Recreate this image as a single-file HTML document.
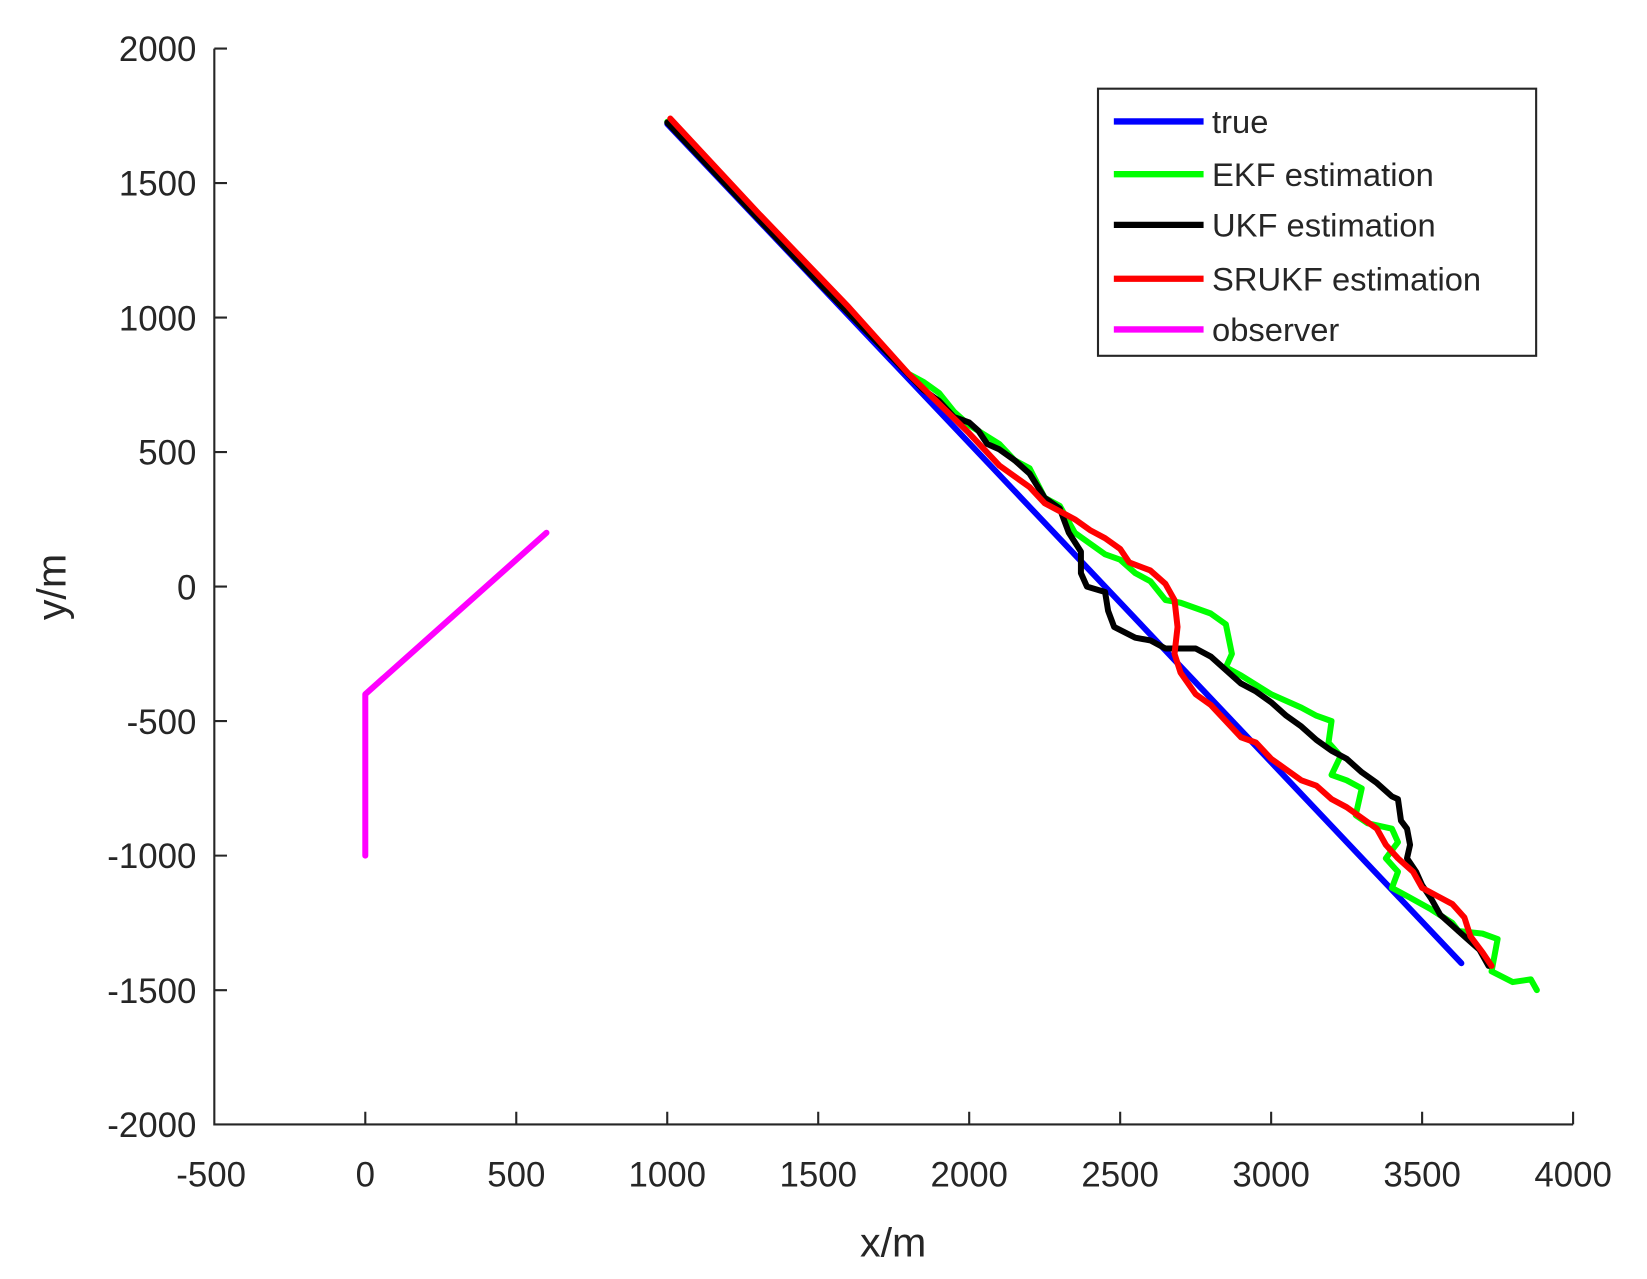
<!DOCTYPE html>
<html><head><meta charset="utf-8"><style>
html,body{margin:0;padding:0;background:#fff;}
svg{display:block;}
text{font-family:"Liberation Sans",Arial,sans-serif;fill:#262626;}
</style></head><body>
<svg width="1647" height="1279" viewBox="0 0 1560 1211.4" preserveAspectRatio="none" xmlns="http://www.w3.org/2000/svg">
<rect width="1560" height="1212" fill="#fff"/>
<g transform="translate(346,555.6) scale(0.286,-0.2548)" fill="none" stroke-linejoin="round" stroke-linecap="round">
<polyline vector-effect="non-scaling-stroke" stroke="#ff00ff" stroke-width="6" points="600,200 0,-400 0,-1000"/>
<polyline vector-effect="non-scaling-stroke" stroke="#0000ff" stroke-width="6" points="1000,1720 3630,-1400"/>
<polyline vector-effect="non-scaling-stroke" stroke="#00ff00" stroke-width="6" points="1000,1728 1500,1140 1800,790 1850,760 1900,720 1950,650 2000,600 2100,530 2150,470 2200,440 2250,330 2300,300 2350,200 2400,160 2450,120 2500,100 2550,50 2600,20 2650,-50 2700,-60 2750,-80 2800,-100 2850,-140 2870,-250 2850,-300 2900,-330 3000,-400 3100,-450 3150,-480 3200,-500 3190,-580 3230,-630 3200,-700 3250,-720 3300,-750 3280,-850 3320,-880 3400,-900 3420,-950 3380,-1010 3420,-1060 3400,-1120 3450,-1150 3530,-1200 3600,-1250 3620,-1280 3700,-1290 3750,-1310 3730,-1430 3800,-1470 3860,-1460 3880,-1500"/>
<polyline vector-effect="non-scaling-stroke" stroke="#000" stroke-width="6" points="1000,1725 1500,1132 1850,730 1900,690 1950,630 2000,610 2030,580 2060,530 2100,510 2150,470 2200,420 2250,330 2300,290 2330,200 2370,130 2370,50 2390,0 2450,-20 2460,-90 2480,-150 2550,-190 2600,-200 2650,-230 2700,-230 2750,-230 2800,-260 2850,-310 2900,-360 2950,-390 3000,-430 3050,-480 3100,-520 3150,-570 3200,-610 3250,-640 3300,-690 3350,-730 3400,-780 3420,-790 3430,-870 3450,-900 3460,-960 3450,-1010 3480,-1060 3500,-1110 3530,-1160 3560,-1220 3600,-1260 3640,-1300 3690,-1350 3720,-1410"/>
<polyline vector-effect="non-scaling-stroke" stroke="#ff0000" stroke-width="6" points="1010,1740 1300,1390 1600,1040 1800,790 1900,680 2000,570 2050,510 2100,450 2150,410 2200,370 2250,310 2300,280 2350,250 2400,210 2450,180 2500,140 2530,90 2600,60 2650,10 2680,-50 2690,-150 2680,-250 2700,-320 2750,-400 2800,-440 2850,-500 2900,-560 2950,-580 3000,-640 3050,-680 3100,-720 3150,-740 3200,-790 3250,-820 3300,-860 3350,-900 3380,-960 3420,-1010 3470,-1060 3500,-1120 3550,-1150 3600,-1180 3640,-1230 3660,-1300 3700,-1360 3730,-1410"/>
</g>
<g stroke="#262626" stroke-width="2" fill="none">
<polyline points="203,46 203,1065 1490,1065"/>
<path d="M203,46h12M203,173.4h12M203,300.8h12M203,428.2h12M203,555.6h12M203,683h12M203,810.4h12M203,937.8h12M346,1065v-12M489,1065v-12M632,1065v-12M775,1065v-12M918,1065v-12M1061,1065v-12M1204,1065v-12M1347,1065v-12M1490,1065v-12"/>
</g>
<g font-size="33" text-anchor="end">
<text x="186" y="58">2000</text><text x="186" y="185">1500</text><text x="186" y="313">1000</text><text x="186" y="440">500</text><text x="186" y="568">0</text><text x="186" y="695">-500</text><text x="186" y="822">-1000</text><text x="186" y="950">-1500</text><text x="186" y="1077">-2000</text>
</g>
<g font-size="33" text-anchor="middle">
<text x="200" y="1124">-500</text><text x="346" y="1124">0</text><text x="489" y="1124">500</text><text x="632" y="1124">1000</text><text x="775" y="1124">1500</text><text x="918" y="1124">2000</text><text x="1061" y="1124">2500</text><text x="1204" y="1124">3000</text><text x="1347" y="1124">3500</text><text x="1490" y="1124">4000</text>
</g>
<text x="846" y="1190" font-size="39" text-anchor="middle">x/m</text>
<text transform="translate(62,556) rotate(-90)" font-size="39" text-anchor="middle">y/m</text>
<rect x="1040" y="84" width="415" height="253" fill="#fff" stroke="#262626" stroke-width="2"/>
<g stroke-width="6">
<line x1="1055" y1="115" x2="1140" y2="115" stroke="#0000ff"/>
<line x1="1055" y1="165" x2="1140" y2="165" stroke="#00ff00"/>
<line x1="1055" y1="213" x2="1140" y2="213" stroke="#000"/>
<line x1="1055" y1="264" x2="1140" y2="264" stroke="#ff0000"/>
<line x1="1055" y1="312" x2="1140" y2="312" stroke="#ff00ff"/>
</g>
<g font-size="31" style="fill:#1a1a1a">
<text x="1148" y="126">true</text>
<text x="1148" y="176">EKF estimation</text>
<text x="1148" y="224">UKF estimation</text>
<text x="1148" y="275">SRUKF estimation</text>
<text x="1148" y="323">observer</text>
</g>
</svg>
</body></html>
